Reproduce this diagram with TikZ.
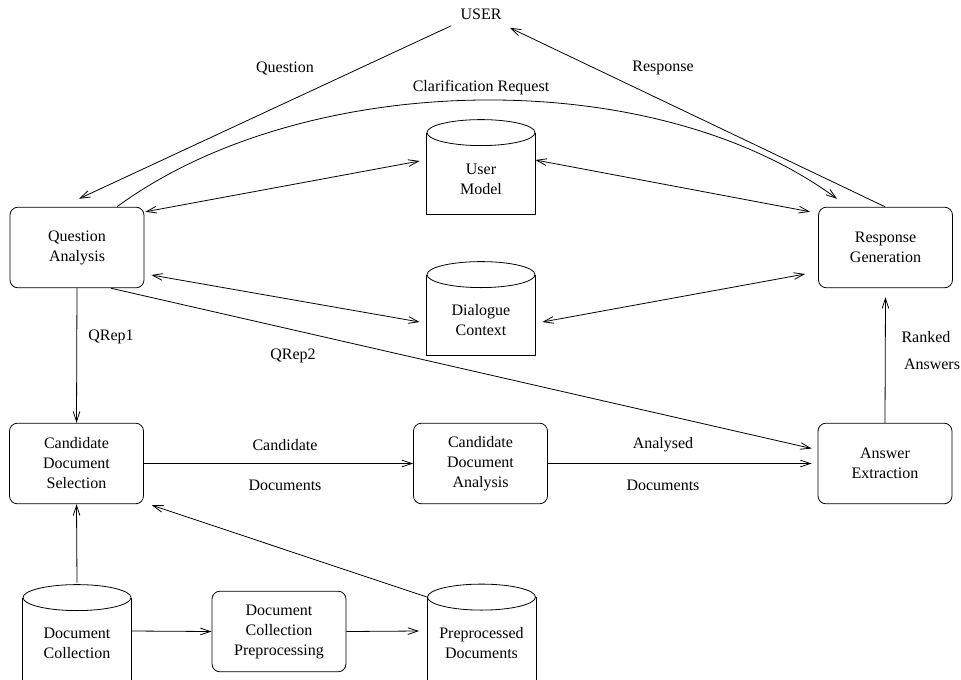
\documentclass[tikz,border=0pt]{standalone}
\usepackage{fontspec}
\setmainfont{Liberation Serif}
\usetikzlibrary{arrows.meta}
\newcommand\cylout[1]{%
  \draw (#1.north west) -- (#1.south west) -- (#1.south east) -- (#1.north east);
  \draw (#1.north) ellipse [x radius=40.5pt, y radius=9.75pt];}
\begin{document}
\begin{tikzpicture}[x=0.75pt,y=-0.75pt,
  line width=0.6pt,
  every node/.style={font=\fontsize{12}{15}\selectfont, align=center, inner sep=0pt},
  box/.style={draw, rounded corners=6pt, minimum width=100.5pt, minimum height=60.5pt},
  cylbody/.style={minimum width=81pt},
  txt/.style={},
  arr/.style={-{Straight Barb[length=7.5pt,width=5pt,line width=0.6pt]}},
  darr/.style={{Straight Barb[length=7.5pt,width=5pt,line width=0.6pt]}-{Straight Barb[length=7.5pt,width=5pt,line width=0.6pt]}}]
\useasboundingbox (0,0) rectangle (961,679);
\clip (0,0) rectangle (961,679);

% nodes
\node[inner sep=3pt] (user) at (481,14) {USER};
\node[box] (qa) at (77,247.5) {Question\\Analysis};
\node[box] (rg) at (885.5,247.5) {Response\\Generation};
\node[box] (cds) at (76.5,463.5) {Candidate\\Document\\Selection};
\node[box] (cda) at (480.5,463.5) {Candidate\\Document\\Analysis};
\node[box] (ae) at (885,463.5) {Answer\\Extraction};
\node[box] (dcp) at (279,631.5) {Document\\Collection\\Preprocessing};

\node[cylbody, minimum height=60.75pt] (um) at (481,173.5) {};
\node (umt) at (481,179) {User\\Model};
\node[cylbody, minimum height=60pt] (dc) at (481,315) {};
\node (dct) at (481,320) {Dialogue\\Context};
\node[cylbody, minimum height=76.5pt] (dcol) at (77,649) {};
\node (dcolt) at (77,643) {Document\\Collection};
\node[cylbody, minimum height=76.5pt] (pd) at (481.5,648.5) {};
\node (pdt) at (481.5,643) {Preprocessed\\Documents};
\cylout{um}
\cylout{dc}
\cylout{dcol}
\cylout{pd}

% labels
\node (lq) at (285,68) {Question};
\node (lcr) at (481,88) {Clarification Request};
\node (lr) at (663,68) {Response};
\node (lq1) at (111,337) {QRep1};
\node (lq2) at (293,356) {QRep2};
\node (lcd1) at (285,445) {Candidate};
\node (lcd2) at (285,485) {Documents};
\node (lad1) at (663,445) {Analysed};
\node (lad2) at (663,485) {Documents};
\node (lra1) at (926,337) {Ranked};
\node (lra2) at (932,364) {Answers};

% connectors
\draw[arr] ([shift={(-5,2)}]user.south west) -- ([shift={(2,-8)}]qa.north);
\draw[arr] ([shift={(-0.5,0)}]rg.north) -- ([shift={(4,4)}]user.south east);
\draw[arr] ([shift={(40,0)}]qa.north) .. controls (303,70) and (651,62) .. ([shift={(-48.5,-8)}]rg.north);
\draw[darr] ([shift={(1,5)}]qa.north east) -- ([shift={(-7,-12.5)}]um.west);
\draw[darr] ([shift={(0,-13.5)}]um.east) -- ([shift={(-8,5)}]rg.north west);
\draw[darr] ([shift={(7,27.5)}]qa.east) -- ([shift={(-7,7)}]dc.west);
\draw[darr] ([shift={(7,7)}]dc.east) -- ([shift={(-13,26.5)}]rg.west);
\draw[arr] (qa.south) -- (cds.north);
\draw[arr] ([shift={(34,0)}]qa.south) -- ([shift={(-6,-15)}]ae.west);
\draw[arr] (cds.east) -- (cda.west);
\draw[arr] (cda.east) -- ([shift={(-6,0)}]ae.west);
\draw[arr] (ae.north) -- ([shift={(0,9)}]rg.south);
\draw[arr] ([shift={(0,-15)}]dcol.north) -- (cds.south);
\draw[arr] ([shift={(0,-18)}]dcol.east) -- (dcp.west);
\draw[arr] (dcp.east) -- ([shift={(-8,-17.5)}]pd.west);
\draw[arr] (pd.north west) -- ([shift={(8,1)}]cds.south east);
\end{tikzpicture}
\end{document}
